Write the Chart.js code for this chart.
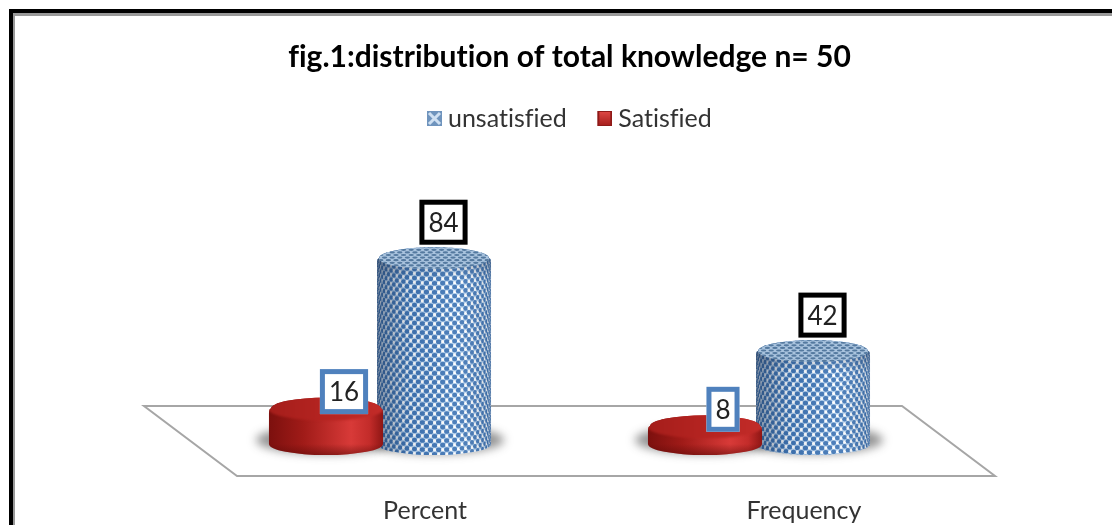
<!DOCTYPE html>
<html>
<head>
<meta charset="utf-8">
<title>fig.1</title>
<script src="https://cdn.jsdelivr.net/npm/chart.js@4"></script>
<style>
    html, body { margin: 0; padding: 0; background: #fff; overflow: hidden; }
    #frame { position: absolute; left: 9px; top: 9px; right: 0; bottom: 0; border-left: 4px solid #000; border-top: 4px solid #000; box-shadow: inset 2px 3px 0 #999; }
    #chartCanvas { position: absolute; left: 0; top: 0; filter: blur(0.45px); }
</style>
</head>
<body>
<div id="frame"></div>
<canvas id="chartCanvas" width="1112" height="525"></canvas>
<script>
const titleText = 'fig.1:distribution of total knowledge n= 50';
const categories = ['Percent', 'Frequency'];
const satisfiedValues = [16, 8];
const unsatisfiedValues = [84, 42];

const FONT = 'Lato, "Open Sans", sans-serif';

// Small legend swatches, the library draws them as point styles.
// The transparent strip on the left nudges the swatch towards its text.
function makeIcon(paint) {
    const icon = document.createElement('canvas');
    icon.width = 21;
    icon.height = 15;
    const ctx = icon.getContext('2d');
    ctx.translate(6, 0);
    paint(ctx);
    return icon;
}

const blueIcon = makeIcon(ctx => {
    ctx.fillStyle = '#6f94bd';
    ctx.fillRect(0, 0, 15, 15);
    ctx.strokeStyle = '#cfe0f2';
    ctx.lineWidth = 3;
    ctx.beginPath();
    ctx.moveTo(2, 2); ctx.lineTo(13, 13);
    ctx.moveTo(13, 2); ctx.lineTo(2, 13);
    ctx.stroke();
});

const redIcon = makeIcon(ctx => {
    const g = ctx.createLinearGradient(0, 0, 0, 15);
    g.addColorStop(0, '#e04a46');
    g.addColorStop(1, '#a51d1b');
    ctx.fillStyle = '#8f1a18';
    ctx.fillRect(0, 0, 15, 15);
    ctx.fillStyle = g;
    ctx.fillRect(2, 1, 11, 13);
});

// Body outline with rounded shoulders at the top
function cylinderPath(ctx, cx, r, ry, topY, baseY) {
    const drop = Math.min(5, (baseY - topY) / 2);
    ctx.beginPath();
    ctx.moveTo(cx - r, topY + drop);
    ctx.lineTo(cx - r, baseY);
    ctx.ellipse(cx, baseY, r, ry, 0, Math.PI, 0, true);
    ctx.lineTo(cx + r, topY + drop);
    ctx.quadraticCurveTo(cx + r, topY, cx + r - 2, topY);
    ctx.ellipse(cx, topY, r - 2, ry, 0, 0, Math.PI, true);
    ctx.quadraticCurveTo(cx - r, topY, cx - r, topY + drop);
    ctx.closePath();
}

function drawShadow(ctx, cx, r, baseY) {
    ctx.save();
    ctx.filter = 'blur(5px)';
    ctx.fillStyle = 'rgba(40,40,40,0.5)';
    ctx.beginPath();
    ctx.ellipse(cx, baseY - 4, r + 13, 14, 0, 0, Math.PI * 2);
    ctx.fill();
    ctx.restore();
}

// Rows of dots wrapped round the cylinder
function drawDots(ctx, cx, r, ry, topY, baseY) {
    const rowStep = 4.5;
    const angleStep = 8.2 / r;
    let row = 0;
    for (let y = topY - ry; y < baseY + ry + rowStep; y += rowStep) {
        const shift = row % 2 ? angleStep / 2 : 0;
        for (let a = -Math.PI / 2 + shift; a < Math.PI / 2; a += angleStep) {
            const x = cx + r * Math.sin(a);
            const yy = y + ry * Math.cos(a) - ry;
            const w = Math.max(0.8, 2.7 * Math.cos(a));
            ctx.fillStyle = '#3f75b5';
            ctx.beginPath();
            ctx.ellipse(x, yy, w, 2.3, 0, 0, Math.PI * 2);
            ctx.fill();
            ctx.fillStyle = '#ffffff';
            ctx.beginPath();
            ctx.ellipse(x + 4.1 * Math.cos(a), yy, w * 0.6, 1.6, 0, 0, Math.PI * 2);
            ctx.fill();
        }
        row++;
    }
}

function drawBlueCylinder(ctx, cx, r, ry, topY, baseY) {
    ctx.save();
    cylinderPath(ctx, cx, r, ry, topY, baseY);
    ctx.clip();
    ctx.fillStyle = '#b4d1ee';
    ctx.fillRect(cx - r, topY - ry, r * 2, baseY - topY + ry * 2);
    drawDots(ctx, cx, r, ry, topY, baseY);
    const side = ctx.createLinearGradient(cx - r, 0, cx + r, 0);
    side.addColorStop(0, 'rgba(30,50,80,0.5)');
    side.addColorStop(0.3, 'rgba(30,50,80,0.1)');
    side.addColorStop(0.7, 'rgba(255,255,255,0.08)');
    side.addColorStop(1, 'rgba(30,50,80,0.22)');
    ctx.fillStyle = side;
    ctx.fillRect(cx - r, topY - ry, r * 2, baseY - topY + ry * 2);
    // darker shoulder under the top face
    const shoulder = ctx.createLinearGradient(0, topY, 0, topY + ry + 10);
    shoulder.addColorStop(0, 'rgba(40,60,90,0.35)');
    shoulder.addColorStop(1, 'rgba(40,60,90,0)');
    ctx.fillStyle = shoulder;
    ctx.fillRect(cx - r, topY, r * 2, ry + 10);
    ctx.restore();

    // top face, rows squeezed by the viewing angle
    ctx.save();
    ctx.beginPath();
    ctx.ellipse(cx, topY, r - 2, ry, 0, 0, Math.PI * 2);
    ctx.clip();
    ctx.fillStyle = '#a9c3de';
    ctx.fillRect(cx - r, topY - ry, r * 2, ry * 2);
    let row = 0;
    for (let y = topY - ry; y <= topY + ry; y += 2.6) {
        ctx.fillStyle = '#54799f';
        for (let x = cx - r + (row % 2 ? 3.8 : 0); x <= cx + r; x += 7.6) {
            ctx.beginPath();
            ctx.ellipse(x, y, 2.7, 1.1, 0, 0, Math.PI * 2);
            ctx.fill();
        }
        row++;
    }
    ctx.restore();
}

function drawRedCylinder(ctx, cx, r, ry, topY, baseY) {
    const side = ctx.createLinearGradient(cx - r, 0, cx + r, 0);
    side.addColorStop(0, '#7c100e');
    side.addColorStop(0.3, '#a01b18');
    side.addColorStop(0.72, '#d83a38');
    side.addColorStop(0.88, '#c32c2a');
    side.addColorStop(1, '#8e1614');
    ctx.fillStyle = side;
    cylinderPath(ctx, cx, r, ry, topY, baseY);
    ctx.fill();

    // soft lower edge so the side does not end in a hard line
    ctx.save();
    cylinderPath(ctx, cx, r, ry, topY, baseY);
    ctx.clip();
    const foot = ctx.createLinearGradient(0, baseY, 0, baseY + ry);
    foot.addColorStop(0, 'rgba(90,10,8,0)');
    foot.addColorStop(1, 'rgba(90,10,8,0.55)');
    ctx.fillStyle = foot;
    ctx.fillRect(cx - r, baseY, r * 2, ry);

    const top = ctx.createLinearGradient(cx - r, 0, cx + r, 0);
    top.addColorStop(0, '#a51e1b');
    top.addColorStop(0.6, '#b82522');
    top.addColorStop(1, '#c22c29');
    ctx.filter = 'blur(1.2px)';
    ctx.fillStyle = top;
    ctx.beginPath();
    ctx.ellipse(cx, topY, r + 1, ry + 1, 0, 0, Math.PI * 2);
    ctx.fill();
    ctx.restore();
}

function drawValueBox(ctx, text, x, y, color) {
    ctx.font = '26px ' + FONT;
    const w = ctx.measureText(text).width + 18;
    const h = 45;
    ctx.fillStyle = '#fff';
    ctx.strokeStyle = color;
    ctx.lineWidth = 5;
    ctx.fillRect(x - w / 2, y - h / 2, w, h);
    ctx.strokeRect(x - w / 2 + 2.5, y - h / 2 + 2.5, w - 5, h - 5);
    ctx.fillStyle = '#222';
    ctx.textAlign = 'center';
    ctx.textBaseline = 'middle';
    ctx.fillText(text, x, y + 1);
}

// Draws the floor, the cylinders and value boxes from the bar elements
const cylinderPlugin = {
    id: 'cylinders',
    beforeDraw(chart) {
        // any letter spacing switches off the fi / ti ligatures of Lato
        chart.ctx.letterSpacing = '0.01px';
    },
    beforeDatasetsDraw(chart) {
        const ctx = chart.ctx;
        const area = chart.chartArea;
        const zeroY = chart.scales.y.getPixelForValue(0);
        const skew = 46.5;
        const backY = zeroY - 38;
        const frontY = zeroY + 32;

        ctx.save();
        ctx.strokeStyle = '#a6a6a6';
        ctx.lineWidth = 2;
        ctx.beginPath();
        ctx.moveTo(area.left - skew, backY);
        ctx.lineTo(area.right - skew, backY);
        ctx.lineTo(area.right + skew, frontY);
        ctx.lineTo(area.left + skew, frontY);
        ctx.closePath();
        ctx.stroke();

        const redMeta = chart.getDatasetMeta(0);
        const blueMeta = chart.getDatasetMeta(1);
        const ry = 11;

        [redMeta, blueMeta].forEach(meta => meta.data.forEach(bar => {
            drawShadow(ctx, bar.x, bar.width * 0.528, bar.base);
        }));
        blueMeta.data.forEach(bar => drawBlueCylinder(ctx, bar.x, bar.width * 0.528, ry, bar.y, bar.base));
        redMeta.data.forEach(bar => drawRedCylinder(ctx, bar.x, bar.width * 0.528, ry, bar.y, bar.base));

        redMeta.data.forEach((bar, i) => drawValueBox(ctx, String(satisfiedValues[i]), bar.x + 18, bar.y - 17, '#4f81bd'));
        blueMeta.data.forEach((bar, i) => drawValueBox(ctx, String(unsatisfiedValues[i]), bar.x + 9.5, bar.y - 36, '#000'));
        ctx.restore();
        return false;
    }
};

new Chart(document.getElementById('chartCanvas'), {
    type: 'bar',
    data: {
        labels: categories,
        datasets: [
            { label: 'Satisfied', data: satisfiedValues, backgroundColor: '#c0282a', legendIcon: redIcon },
            { label: 'unsatisfied', data: unsatisfiedValues, backgroundColor: '#6f94bd', legendIcon: blueIcon }
        ]
    },
    plugins: [cylinderPlugin],
    options: {
        responsive: false,
        animation: false,
        layout: { padding: { left: 190.5, right: 163.5, top: 0, bottom: 0 } },
        datasets: { bar: { barPercentage: 1, categoryPercentage: 0.57 } },
        plugins: {
            tooltip: { enabled: false },
            title: {
                display: true,
                text: titleText,
                color: '#000',
                font: { family: FONT, size: 30, weight: 'bold' },
                padding: { top: 39, bottom: 0 }
            },
            legend: {
                reverse: true,
                labels: {
                    usePointStyle: true,
                    pointStyleWidth: 8,
                    padding: 31,
                    color: '#333',
                    font: { family: FONT, size: 25 },
                    generateLabels(chart) {
                        return Chart.defaults.plugins.legend.labels.generateLabels(chart).map(item => {
                            item.pointStyle = chart.data.datasets[item.datasetIndex].legendIcon;
                            return item;
                        });
                    }
                }
            }
        },
        scales: {
            x: {
                grid: { display: false, drawTicks: false },
                border: { display: false },
                ticks: { color: '#333', font: { family: FONT, size: 25 }, padding: 52, labelOffset: 45 },
                afterFit(scale) { scale.height = 81; }
            },
            y: { display: false, min: 0, max: 137 }
        }
    }
});
</script>
</body>
</html>
